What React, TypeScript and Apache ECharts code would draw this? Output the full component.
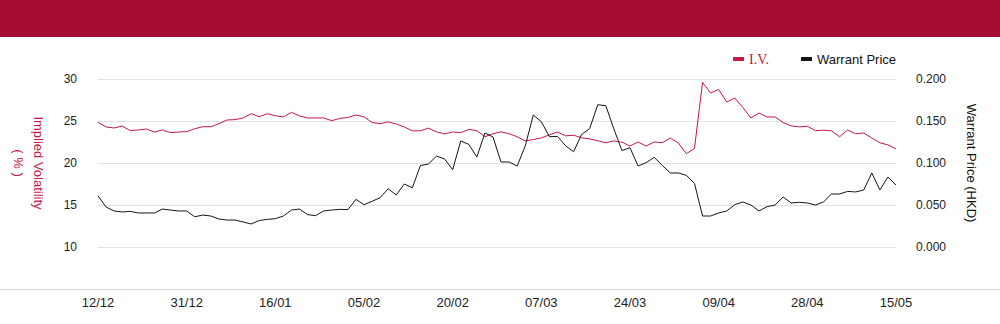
import React, { useEffect, useRef } from "react";
import * as echarts from "echarts";

const dates: string[] = [
  "12/12", "13/12", "16/12", "17/12", "18/12", "19/12", "20/12", "23/12", "24/12", "27/12", "30/12", "31/12",
  "02/01", "03/01", "06/01", "07/01", "08/01", "09/01", "10/01", "13/01", "14/01", "15/01", "16/01", "17/01",
  "20/01", "21/01", "22/01", "23/01", "24/01", "27/01", "28/01",
  "03/02", "04/02", "05/02", "06/02", "07/02", "10/02", "11/02", "12/02", "13/02", "14/02", "17/02", "18/02",
  "19/02", "20/02", "21/02", "24/02", "25/02", "26/02", "27/02", "28/02",
  "03/03", "04/03", "05/03", "06/03", "07/03", "10/03", "11/03", "12/03", "13/03", "14/03", "17/03", "18/03",
  "19/03", "20/03", "21/03", "24/03", "25/03", "26/03", "27/03", "28/03", "31/03",
  "01/04", "02/04", "03/04", "07/04", "08/04", "09/04", "10/04", "11/04", "14/04", "15/04", "16/04", "17/04",
  "22/04", "23/04", "24/04", "25/04", "28/04", "29/04", "30/04",
  "02/05", "06/05", "07/05", "08/05", "09/05", "12/05", "13/05", "14/05", "15/05",
];

const impliedVol: number[] = [
  24.84, 24.29, 24.17, 24.4, 23.85, 23.93, 24.05, 23.69, 23.93, 23.61,
  23.69, 23.73, 24.08, 24.32, 24.32, 24.68, 25.12, 25.16, 25.36, 25.87,
  25.51, 25.87, 25.63, 25.48, 26.03, 25.6, 25.36, 25.36, 25.36, 25.04,
  25.31, 25.42, 25.71, 25.5, 24.82, 24.68, 24.9, 24.64, 24.29, 23.83,
  23.83, 24.15, 23.71, 23.47, 23.69, 23.61, 24.0, 23.85, 23.13, 23.49,
  23.71, 23.49, 23.13, 22.63, 22.79, 22.99, 23.35, 23.69, 23.23, 23.31,
  23.0, 22.87, 22.65, 22.4, 22.63, 22.48, 22.02, 22.5, 22.02, 22.5,
  22.42, 22.97, 22.38, 21.11, 21.74, 29.6, 28.33, 28.76, 27.26, 27.74,
  26.6, 25.36, 25.95, 25.48, 25.48, 24.82, 24.42, 24.3, 24.38, 23.85,
  23.91, 23.83, 23.12, 23.93, 23.47, 23.57, 22.97, 22.4, 22.16, 21.67,
];

const warrantPrice: number[] = [
  0.061, 0.0476, 0.0429, 0.0417, 0.0424, 0.0405, 0.0405, 0.0405, 0.0452, 0.044,
  0.0429, 0.0429, 0.036, 0.038, 0.0369, 0.0333, 0.0321, 0.0321, 0.0298, 0.0274,
  0.0315, 0.0329, 0.0337, 0.0369, 0.044, 0.0452, 0.0385, 0.0373, 0.0429, 0.044,
  0.0448, 0.0445, 0.0567, 0.0504, 0.0544, 0.0587, 0.0694, 0.0619, 0.075, 0.0706,
  0.097, 0.0988, 0.1083, 0.1048, 0.092, 0.1262, 0.1222, 0.1071, 0.1357, 0.131,
  0.1012, 0.1012, 0.0964, 0.1202, 0.1571, 0.1492, 0.1313, 0.1317, 0.1206, 0.1134,
  0.134, 0.141, 0.1694, 0.1682, 0.1405, 0.1148, 0.1182, 0.0964, 0.1004, 0.1067,
  0.0972, 0.0881, 0.0881, 0.0853, 0.0757, 0.0369, 0.0369, 0.0405, 0.0429, 0.0504,
  0.0536, 0.05, 0.0429, 0.048, 0.05, 0.0595, 0.0524, 0.0532, 0.0524, 0.05,
  0.0536, 0.0631, 0.0631, 0.0662, 0.0655, 0.0679, 0.0881, 0.0679, 0.0833, 0.0738,
];

const seriesNames: string[] = ["I.V.", "Warrant Price"];
const leftAxisName = "Implied Volatility\n( % )";
const rightAxisName = "Warrant Price (HKD)";

const RED = "#C4174A";
const BLACK = "#151515";
const FONT = "'Liberation Sans', Arial, sans-serif";

export default function App() {
  const ref = useRef<HTMLDivElement>(null);

  useEffect(() => {
    document.body.style.margin = "0";
    if (!ref.current) return;
    const chart = echarts.init(ref.current, null, { renderer: "svg" });
    chart.setOption({
      animation: false,
      backgroundColor: "#ffffff",
      textStyle: { fontFamily: FONT },
      graphic: [
        {
          type: "rect",
          shape: { x: 0, y: 0, width: 1000, height: 37 },
          style: { fill: "#A50D32" },
          silent: true,
        },
        {
          type: "line",
          shape: { x1: 0, y1: 289.5, x2: 1000, y2: 289.5 },
          style: { stroke: "#d2d2d2", lineWidth: 1 },
          silent: true,
        },
      ],
      legend: {
        right: 104,
        top: 52,
        padding: 0,
        icon: "rect",
        itemWidth: 11,
        itemHeight: 4,
        itemGap: 32,
        data: [
          { name: seriesNames[0], textStyle: { color: RED, fontFamily: "'Liberation Serif', serif", fontSize: 14 } },
          { name: seriesNames[1], textStyle: { color: "#111", fontFamily: FONT, fontSize: 13 } },
        ],
      },
      grid: { left: 84, right: 104, top: 79, bottom: 77, containLabel: false },
      xAxis: {
        type: "category",
        data: dates,
        boundaryGap: false,
        offset: 42,
        axisLine: { show: false },
        axisTick: { show: false },
        splitLine: { show: false },
        axisLabel: { interval: 10, color: "#222", fontSize: 13, margin: 7, fontFamily: FONT },
      },
      yAxis: [
        {
          type: "value",
          min: 10,
          max: 30,
          interval: 5,
          position: "left",
          name: leftAxisName,
          nameLocation: "middle",
          nameRotate: -90,
          nameGap: 50,
          nameTextStyle: { color: RED, fontSize: 13, lineHeight: 20, fontFamily: FONT },
          axisLine: { show: false },
          axisTick: { show: false },
          axisLabel: { color: "#222", fontSize: 12, margin: 21, fontFamily: FONT },
          splitLine: { show: true, lineStyle: { color: "#e2e2e2", width: 1 } },
        },
        {
          type: "value",
          min: 0,
          max: 0.2,
          interval: 0.05,
          position: "right",
          name: rightAxisName,
          nameLocation: "middle",
          nameRotate: -90,
          nameGap: 69,
          nameTextStyle: { color: "#111", fontSize: 13, fontFamily: FONT },
          axisLine: { show: false },
          axisTick: { show: false },
          axisLabel: {
            color: "#222",
            fontSize: 12,
            margin: 20,
            fontFamily: FONT,
            formatter: (v: number) => v.toFixed(3),
          },
          splitLine: { show: false },
        },
      ],
      series: [
        {
          name: seriesNames[0],
          type: "line",
          yAxisIndex: 0,
          data: impliedVol,
          symbol: "none",
          color: RED,
          lineStyle: { color: RED, width: 1 },
        },
        {
          name: seriesNames[1],
          type: "line",
          yAxisIndex: 1,
          data: warrantPrice,
          symbol: "none",
          color: BLACK,
          lineStyle: { color: BLACK, width: 1 },
        },
      ],
    });
    return () => chart.dispose();
  }, []);

  return <div ref={ref} style={{ width: 1000, height: 324 }} />;
}
